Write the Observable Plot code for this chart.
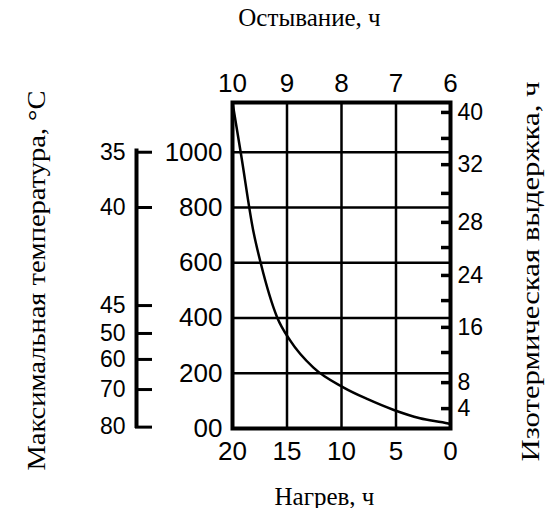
<!DOCTYPE html>
<html>
<head>
<meta charset="utf-8">
<script src="https://cdn.jsdelivr.net/npm/d3@7"></script>
<script src="https://cdn.jsdelivr.net/npm/@observablehq/plot@0.6"></script>
<style>
  html, body { margin: 0; padding: 0; background: #fff; }
</style>
</head>
<body>
<div id="chart"></div>
<script>
// Heating time (bottom axis, h) and the curve values (left axis)
const heatHours  = [20, 19.2, 18.1, 17.4, 15.9, 14.7, 12.6, 9.8, 7.6, 5.2, 2.8, 0.2, 0];
const curveValue = [1180, 988, 717, 597, 402, 318, 221, 148, 106, 67, 37, 18, 16];

// Left main axis ticks
const leftTicks = [0, 200, 400, 600, 800, 1000];
// Bottom axis (Нагрев, ч)
const heatTicks = [20, 15, 10, 5, 0];
// Top axis (Остывание, ч)
const coolTicks = [10, 9, 8, 7, 6];

// Temperature scale (labels and their place on the left axis)
const tempLabels = [35, 40, 45, 50, 60, 70, 80];
const tempPos    = [1000, 800, 445, 344, 250, 141, 5];

// Isothermal holding scale (right, labels and place on the left axis)
const holdLabels = ["4", "8", "", "16", "", "24", "", "28", "", "32", "", "40"];
const holdPos    = [72, 166, 275, 366, 463, 554, 655, 746, 851, 955, 1050, 1144];

const titleTop    = "Остывание, ч";
const titleBottom = "Нагрев, ч";
const titleLeft   = "Максимальная температура, °С";
const titleRight  = "Изотермическая выдержка, ч";

const curve = heatHours.map((h, i) => ({h, v: curveValue[i]}));
const coolToHeat = c => (c - 6) * 5;

const serif = "Liberation Serif, Times New Roman, serif";

const chart = Plot.plot({
  width: 554,
  height: 508,
  marginLeft: 232,
  marginRight: 104,
  marginTop: 102,
  marginBottom: 80,
  style: {fontFamily: "Liberation Sans, Arial, sans-serif", fontSize: "26px", color: "#000", background: "#fff"},
  x: {domain: [20, 0]},
  y: {domain: [0, 1180]},
  marks: [
    Plot.gridX({ticks: heatTicks.slice(1, -1), stroke: "#000", strokeOpacity: 1, strokeWidth: 2.5}),
    Plot.gridY({ticks: leftTicks.slice(1), stroke: "#000", strokeOpacity: 1, strokeWidth: 2.5}),
    Plot.frame({stroke: "#000", strokeWidth: 4}),
    Plot.line(curve, {x: "h", y: "v", curve: "monotone-x", stroke: "#000", strokeWidth: 2.5}),

    // bottom axis
    Plot.axisX({anchor: "bottom", ticks: heatTicks, tickSize: 0, tickPadding: 13, label: null}),
    // top axis
    Plot.axisX({anchor: "top", ticks: coolTicks.map(coolToHeat), tickFormat: d => String(d / 5 + 6), tickSize: 0, tickPadding: 11, label: null}),
    // left main axis
    Plot.axisY({anchor: "left", ticks: leftTicks, tickFormat: d => d === 0 ? "00" : String(d), tickSize: 0, tickPadding: 10, label: null}),

    // temperature scale
    Plot.ruleX([heatTicks[0]], {y1: 0, y2: tempPos[0] + 12, dx: -96, stroke: "#000", strokeWidth: 4}),
    Plot.axisY({anchor: "left", ticks: tempPos, tickFormat: () => "", tickSize: 17, dx: -80, strokeWidth: 3, label: null}),
    Plot.axisY({anchor: "left", ticks: tempPos, tickFormat: d => String(tempLabels[tempPos.indexOf(d)]), dx: -97, tickSize: 0, tickPadding: 10, fontSize: 23, label: null}),

    // holding scale on the right
    Plot.axisY({anchor: "right", ticks: holdPos, tickFormat: () => "", tickSize: 10, dx: -10, strokeWidth: 3.5, label: null}),
    Plot.axisY({anchor: "right", ticks: holdPos, tickFormat: d => holdLabels[holdPos.indexOf(d)], tickSize: 0, tickPadding: 7, fontSize: 23, label: null}),

    // titles
    Plot.text([titleTop], {frameAnchor: "top", textAnchor: "middle", dx: -32, dy: -94, fontFamily: serif, fontSize: 25}),
    Plot.text([titleBottom], {frameAnchor: "bottom", textAnchor: "middle", dx: -17, dy: 76, fontFamily: serif, fontSize: 25}),
    Plot.text([titleLeft], {frameAnchor: "left", textAnchor: "middle", lineAnchor: "middle", dx: -196, dy: 15, rotate: -90, fontFamily: serif, fontSize: 25}),
    Plot.text([titleRight], {frameAnchor: "right", textAnchor: "middle", lineAnchor: "middle", dx: 80, dy: 6, rotate: -90, fontFamily: serif, fontSize: 25})
  ]
});

// the vertical titles in the reference are set a little wider
d3.select(chart).selectAll("text")
  .filter(function () { return this.textContent === titleLeft || this.textContent === titleRight; })
  .attr("textLength", 380)
  .attr("lengthAdjust", "spacingAndGlyphs");

document.getElementById("chart").appendChild(chart);
</script>
</body>
</html>
